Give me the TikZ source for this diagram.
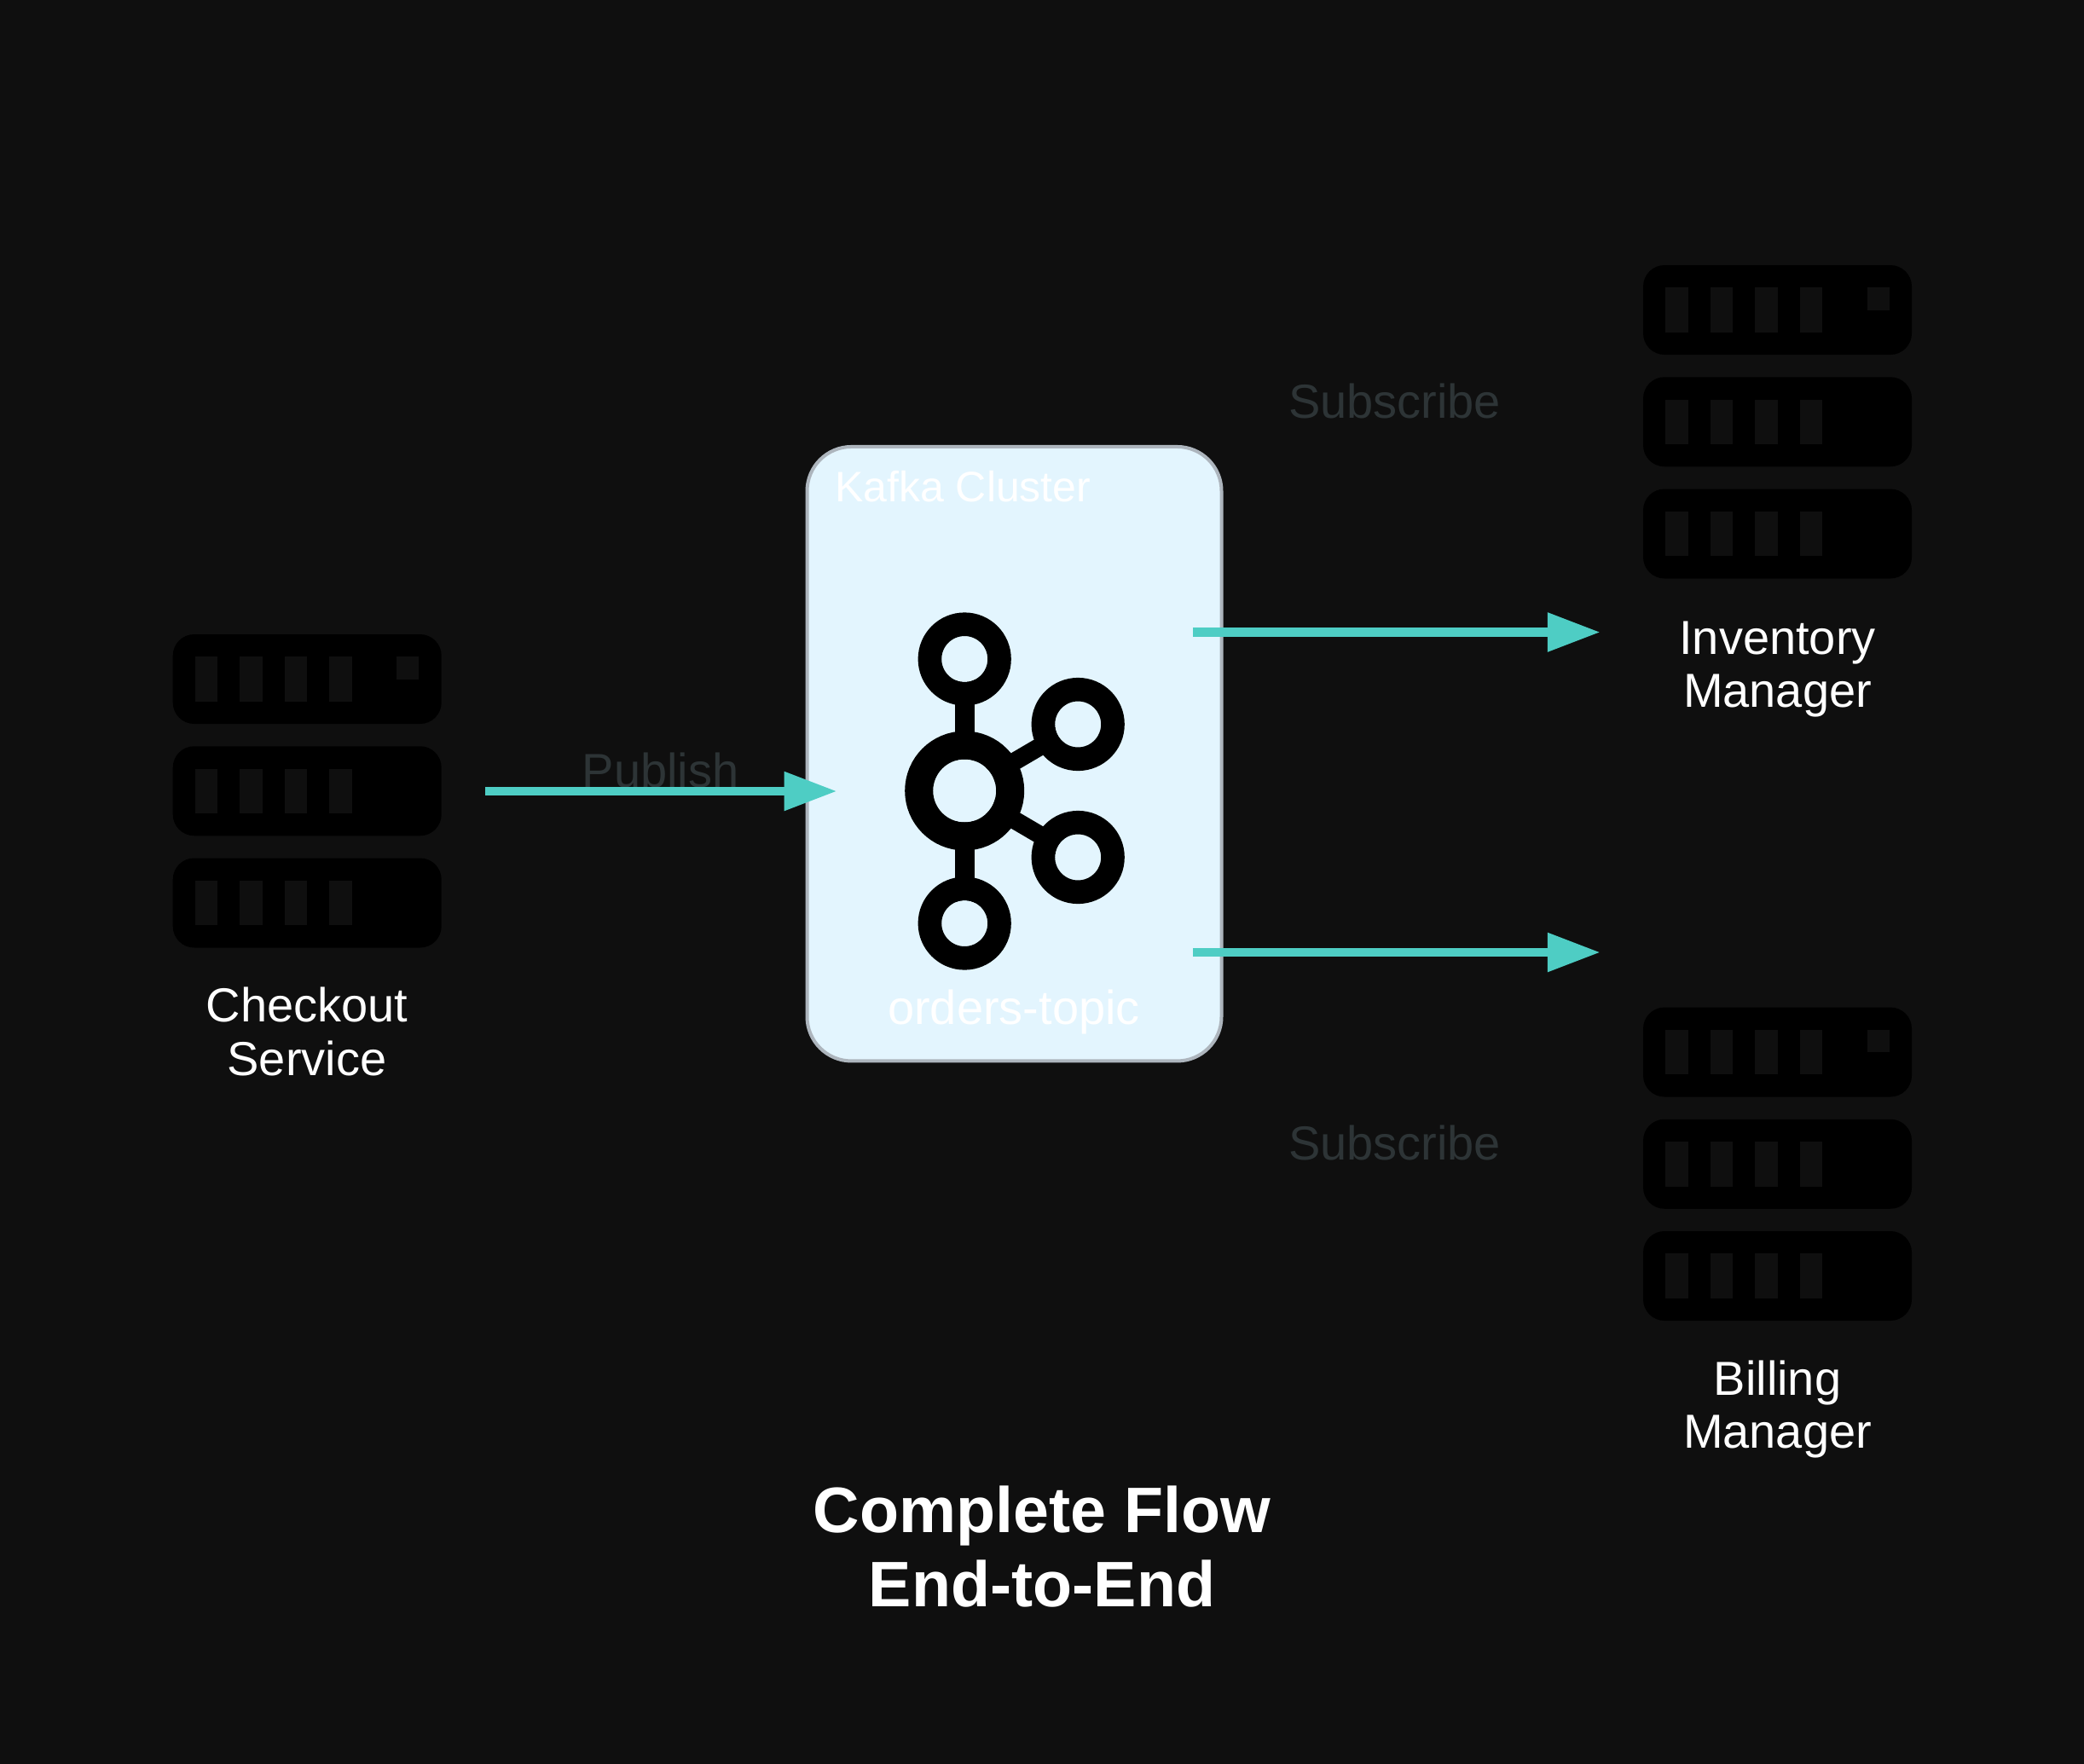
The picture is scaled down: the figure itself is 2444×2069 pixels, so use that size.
\documentclass[tikz,border=0pt]{standalone}
\usepackage{fontspec}
\setmainfont{Liberation Sans}
\usetikzlibrary{arrows.meta, positioning}

\definecolor{bgdark}{HTML}{0F0F0F}
\definecolor{flowteal}{HTML}{4ECDC4}
\definecolor{edgegrey}{HTML}{2D3436}
\definecolor{clusterfill}{HTML}{E3F5FE}
\definecolor{clusterline}{HTML}{ADB5BD}

\tikzset{
  servericon/.pic={
    \foreach \rowy in {0,131.25,262.5} {
      \fill[black, rounded corners=25pt] (0,\rowy) rectangle (315,\rowy+105);
      \foreach \slotx in {26.25,78.75,131.25,183.75} {
        \fill[bgdark] (\slotx,\rowy+26.25) rectangle (\slotx+26.25,\rowy+78.75);
      }
    }
    \fill[bgdark] (262.5,26.25) rectangle (288.75,52.5);
  },
  kafkaicon/.pic={
    \draw[black, line width=23pt] (0,-155) -- (0,155);
    \draw[black, line width=21pt] (133,-78) -- (0,0) -- (133,78);
    \fill[clusterfill] (0,0) circle (37);
    \draw[black, line width=33pt] (0,0) circle (53.5);
    \foreach \hubx/\huby in {0/-154.5, 0/155.5, 133/-78, 133/78} {
      \fill[clusterfill] (\hubx,\huby) circle (27);
      \draw[black, line width=27.6pt] (\hubx,\huby) circle (40.8);
    }
  }
}

\begin{document}
\begin{tikzpicture}[
  x=1pt, y=-1pt,
  hostbox/.style={rectangle, minimum width=418pt, minimum height=1pt, inner sep=0pt},
  clusterbox/.style={rectangle, draw=clusterline, fill=clusterfill, line width=4pt, rounded corners=52pt, minimum width=486pt, minimum height=720.5pt, inner sep=0pt},
  hostlabel/.style={text=white, align=center, font=\fontsize{56}{62.5}\selectfont, inner sep=0pt},
  clusterlabel/.style={text=white, font=\fontsize{50}{60}\selectfont, inner sep=0pt},
  edgelabel/.style={text=edgegrey, font=\fontsize{56}{62.5}\selectfont, inner sep=0pt},
  titlelabel/.style={text=white, align=center, font=\fontsize{75.4}{87}\bfseries\selectfont, inner sep=0pt},
  arrow/.style={-{Triangle[length=62pt, width=43.5pt]}, flowteal, line width=10.5pt}
  ]

\fill[bgdark] (0,0) rectangle (2444,2069);
\useasboundingbox (0,0) rectangle (2444,2069);

% cluster
\node[clusterbox] (kafka) at (1189.5,884.2) {};
\node[clusterlabel, anchor=base west] (kafkaname) at (979,588) {Kafka Cluster};
\pic at (1131.2,927.5) {kafkaicon};
\node[hostlabel, anchor=base] (topic) at (1189,1201.5) {orders-topic};

% hosts
\pic at (202.7,744) {servericon};
\pic at (1927,311) {servericon};
\pic at (1927,1181.5) {servericon};

\node[hostbox] (checkout) at (360,928) {};
\node[hostbox] (inventory) at (2086,741.5) {};
\node[hostbox] (billing) at (2086,1117) {};

\node[hostlabel] (checkoutname) at (360,1210) {Checkout\\Service};
\node[hostlabel] (inventoryname) at (2084.5,785) {Inventory\\Manager};
\node[hostlabel] (billingname) at (2084.5,1653) {Billing\\Manager};

% edge labels
\node[edgelabel, anchor=base] (publish) at (774.5,923.3) {Publish};
\node[edgelabel, anchor=base] (subscribeup) at (1635.5,490) {Subscribe};
\node[edgelabel, anchor=base] (subscribedown) at (1635.5,1360.5) {Subscribe};

\coordinate (kafkain) at (981.5,928);
\coordinate (kafkaup) at (1399,741.5);
\coordinate (kafkadown) at (1399,1117);

\draw[arrow] (checkout.east) -- (kafkain);
\draw[arrow] (kafkaup) -- (inventory.west);
\draw[arrow] (kafkadown) -- (billing.west);

\node[titlelabel] (title) at (1222,1814.5) {Complete Flow\\End-to-End};

\end{tikzpicture}
\end{document}
